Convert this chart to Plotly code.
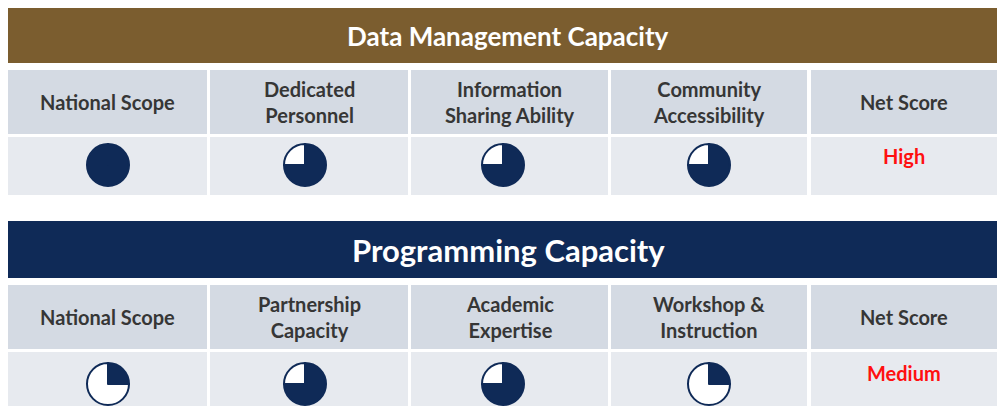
import plotly.graph_objects as go

# ---------------- data ----------------
section_titles = ["Data Management Capacity", "Programming Capacity"]
dm_criteria = ["National Scope", "Dedicated<br>Personnel", "Information<br>Sharing Ability", "Community<br>Accessibility"]
pg_criteria = ["National Scope", "Partnership<br>Capacity", "Academic<br>Expertise", "Workshop &<br>Instruction"]
dm_scores = [1.0, 0.75, 0.75, 0.75]
pg_scores = [0.25, 0.75, 0.75, 0.25]
net_label = "Net Score"
net_scores = ["High", "Medium"]

# ---------------- style ----------------
W, H = 997, 406
NAVY = "#0f2a57"
BROWN = "#7b5d2f"
HEAD_BG = "#d4dae3"
VAL_BG = "#e7eaef"
TXT = "#363636"
RED = "#ff1010"
FONT = "Lato"

cols = [(8, 207), (210, 408), (411, 608), (611, 807), (811, 1010)]
ball_x = [108, 305, 503, 709]
sections = [
    dict(title=section_titles[0], crit=dm_criteria, scores=dm_scores, net=net_scores[0],
         band=(8, 63), band_col=BROWN, title_size=26, head=(70, 134), val=(137, 195),
         ball_y=165, net_y=156),
    dict(title=section_titles[1], crit=pg_criteria, scores=pg_scores, net=net_scores[1],
         band=(221, 278), band_col=NAVY, title_size=31, head=(285, 349), val=(352, 420),
         ball_y=384, net_y=373),
]
R = 21

fig = go.Figure()
shapes, annotations = [], []

for s in sections:
    shapes.append(dict(type="rect", xref="x", yref="y", x0=8, x1=W + 20, y0=s["band"][0], y1=s["band"][1],
                       fillcolor=s["band_col"], line=dict(width=0), layer="below"))
    annotations.append(dict(x=508, y=(s["band"][0] + s["band"][1]) / 2, xref="x", yref="y",
                            text="<b>" + s["title"] + "</b>", showarrow=False,
                            font=dict(family=FONT, size=s["title_size"], color="white")))
    labels = s["crit"] + [net_label]
    for i, (x0, x1) in enumerate(cols):
        shapes.append(dict(type="rect", xref="x", yref="y", x0=x0, x1=x1, y0=s["head"][0], y1=s["head"][1],
                           fillcolor=HEAD_BG, line=dict(width=0), layer="below"))
        shapes.append(dict(type="rect", xref="x", yref="y", x0=x0, x1=x1, y0=s["val"][0], y1=s["val"][1],
                           fillcolor=VAL_BG, line=dict(width=0), layer="below"))
        cx = (x0 + min(x1, W)) / 2
        annotations.append(dict(x=cx, y=(s["head"][0] + s["head"][1]) / 2, xref="x", yref="y",
                                text="<b>" + labels[i] + "</b>", showarrow=False,
                                font=dict(family=FONT, size=20, color=TXT)))
        if i < 4:
            v = s["scores"][i]
            bx = ball_x[i]
            by = s["ball_y"]
            fig.add_trace(go.Pie(
                values=[v, 1 - v], sort=False, direction="clockwise", rotation=0,
                marker=dict(colors=[NAVY, "white"], line=dict(color=NAVY, width=2)),
                textinfo="none", hoverinfo="skip", showlegend=False,
                domain=dict(x=[max(0, (bx - R) / W), min(1, (bx + R) / W)],
                            y=[max(0, 1 - (by + R) / H), min(1, 1 - (by - R) / H)]),
            ))
        else:
            annotations.append(dict(x=cx, y=s["net_y"], xref="x", yref="y",
                                    text="<b>" + s["net"] + "</b>", showarrow=False,
                                    font=dict(family=FONT, size=20, color=RED)))

fig.update_layout(
    width=W, height=H, margin=dict(l=0, r=0, t=0, b=0),
    paper_bgcolor="white", plot_bgcolor="white",
    xaxis=dict(range=[0, W], visible=False, fixedrange=True),
    yaxis=dict(range=[H, 0], visible=False, fixedrange=True),
    shapes=shapes, annotations=annotations,
)
fig.write_html(
    "out.html",
    config={"displayModeBar": False},
    post_script="document.body.style.margin='0';document.body.style.overflow='hidden';",
)
